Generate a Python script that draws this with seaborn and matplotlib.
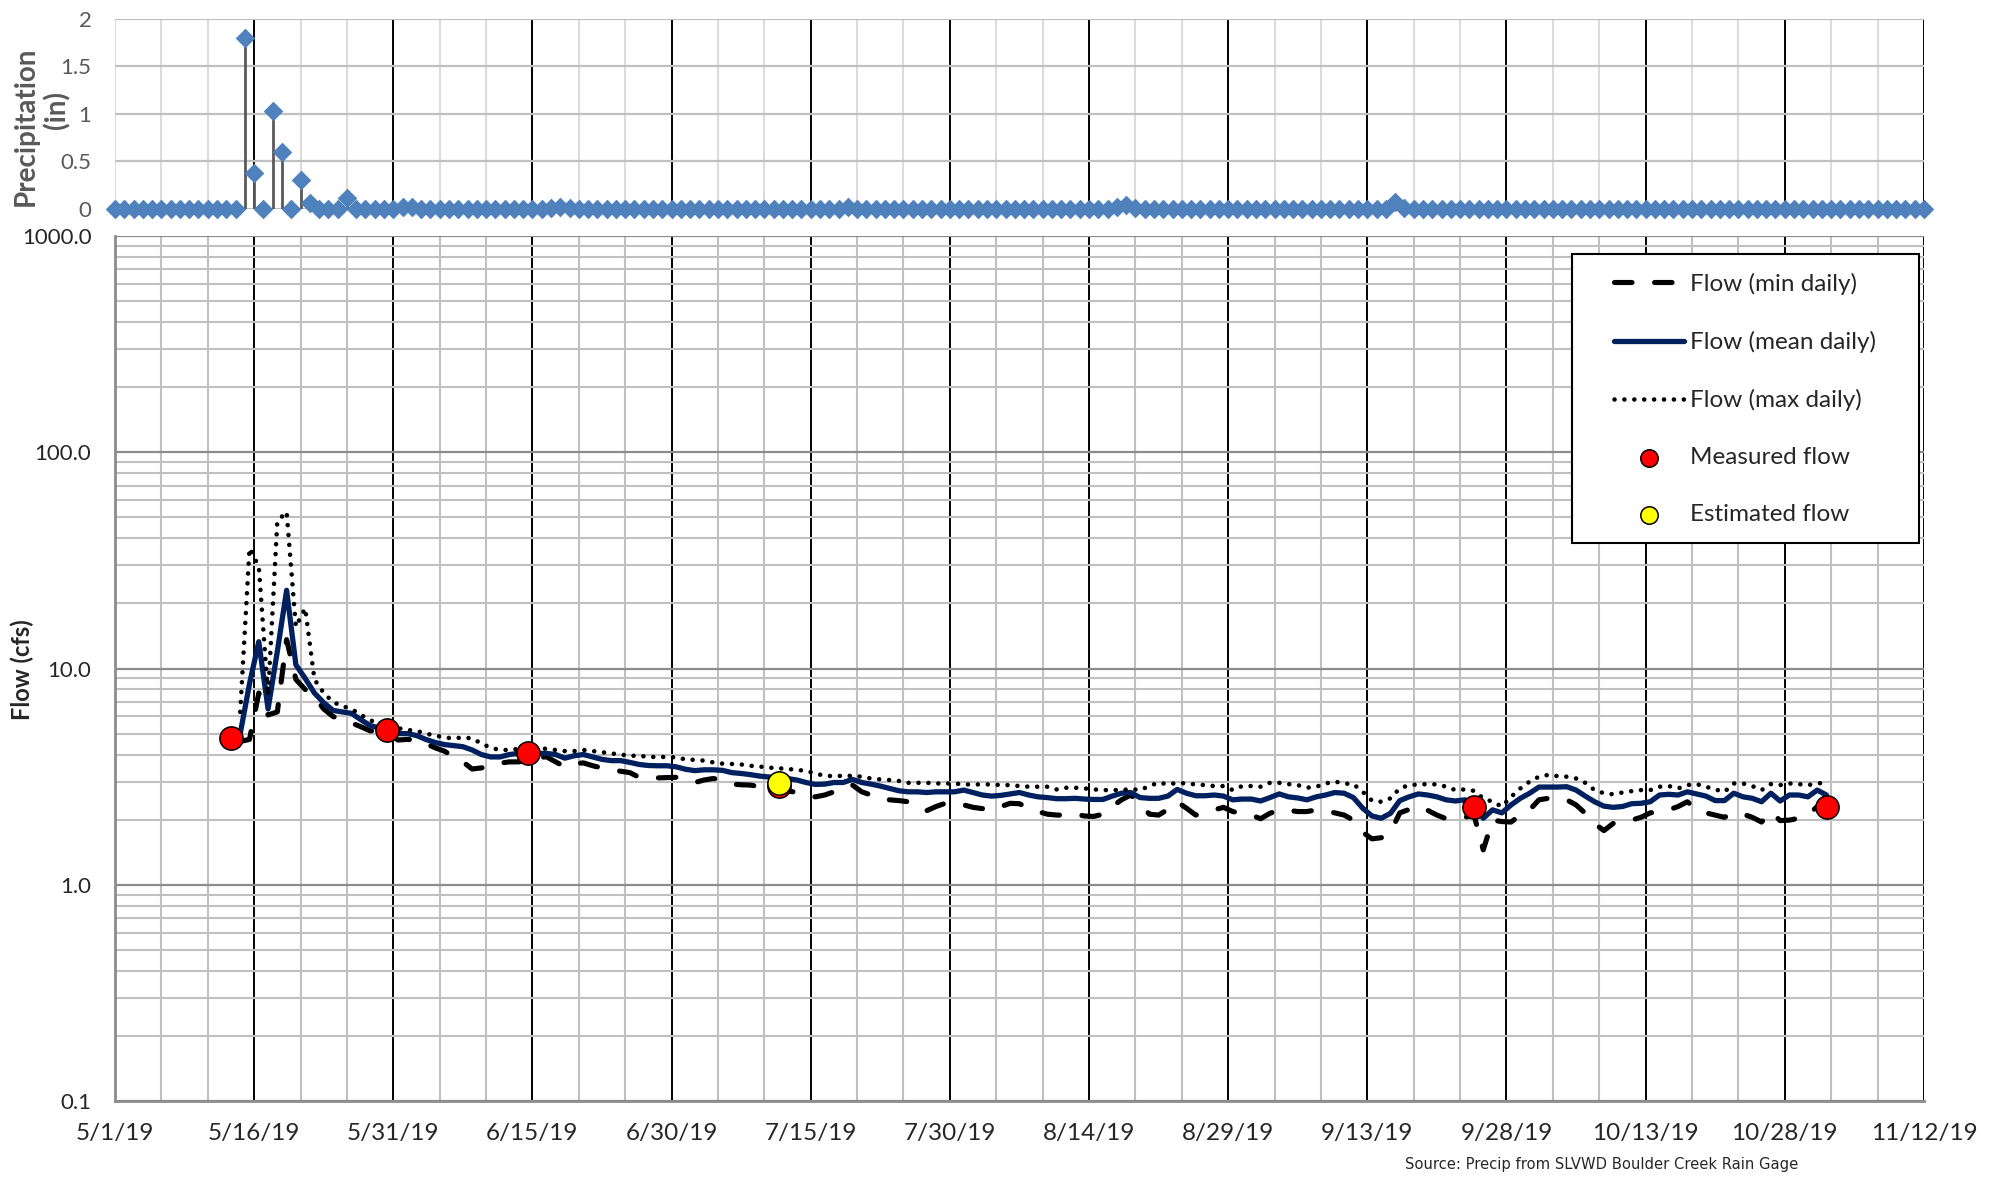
import pandas as pd
import matplotlib
matplotlib.use("Agg")
import matplotlib.pyplot as plt
import matplotlib.dates as mdates
from matplotlib.ticker import FixedLocator, FuncFormatter, NullFormatter
from matplotlib.patches import Rectangle
import seaborn as sns

# daily precipitation (in), one value per day starting 5/1/19
precip_start = "2019-05-01"
precip_in = [
    0, 0, 0, 0, 0, 0, 0, 0, 0, 0, 0, 0, 0, 0, 1.8,
    0.38, 0, 1.03, 0.6, 0, 0.3, 0.06, 0, 0, 0, 0.12, 0, 0, 0, 0,
    0, 0.02, 0.02, 0, 0, 0, 0, 0, 0, 0, 0, 0, 0, 0, 0,
    0, 0, 0.01, 0.02, 0.01, 0, 0, 0, 0, 0, 0, 0, 0, 0, 0,
    0, 0, 0, 0, 0, 0, 0, 0, 0, 0, 0, 0, 0, 0, 0,
    0, 0, 0, 0, 0.02, 0, 0, 0, 0, 0, 0, 0, 0, 0, 0,
    0, 0, 0, 0, 0, 0, 0, 0, 0, 0, 0, 0, 0, 0, 0,
    0, 0, 0, 0.02, 0.04, 0.01, 0, 0, 0, 0, 0, 0, 0, 0, 0,
    0, 0, 0, 0, 0, 0, 0, 0, 0, 0, 0, 0, 0, 0, 0,
    0, 0, 0, 0.07, 0.01, 0, 0, 0, 0, 0, 0, 0, 0, 0, 0,
    0, 0, 0, 0, 0, 0, 0, 0, 0, 0, 0, 0, 0, 0, 0,
    0, 0, 0, 0, 0, 0, 0, 0, 0, 0, 0, 0, 0, 0, 0,
    0, 0, 0, 0, 0, 0, 0, 0, 0, 0, 0, 0, 0, 0, 0,
    0,
]

# daily flow (cfs), one value per day starting 5/14/19
flow_start = "2019-05-14 12:00"
flow_min = [
    4.6, 4.7, 7.7, 6.1, 6.3, 13.6, 8.9, 8.0, 7.4, 6.5, 6.0, 5.8, 5.6, 5.38, 5.15,
    5.1, 5.0, 4.67, 4.7, 4.67, 4.5, 4.3, 4.15, 3.91, 3.7, 3.43, 3.47, 3.55, 3.65, 3.7,
    3.7, 3.77, 3.85, 3.91, 3.7, 3.51, 3.63, 3.66, 3.55, 3.47, 3.39, 3.35, 3.3, 3.14, 3.11,
    3.12, 3.13, 3.14, 3.05, 2.97, 3.05, 3.1, 3.05, 2.92, 2.9, 2.89, 2.84, 2.74, 2.7, 2.72,
    2.67, 2.58, 2.55, 2.6, 2.69, 2.74, 2.89, 2.69, 2.6, 2.49, 2.47, 2.45, 2.42, 2.34, 2.2,
    2.3, 2.38, 2.4, 2.34, 2.28, 2.25, 2.22, 2.3, 2.38, 2.37, 2.26, 2.18, 2.12, 2.1, 2.1,
    2.12, 2.08, 2.07, 2.12, 2.3, 2.47, 2.6, 2.38, 2.12, 2.1, 2.23, 2.42, 2.26, 2.1, 2.15,
    2.22, 2.28, 2.18, 2.14, 2.1, 2.02, 2.14, 2.22, 2.21, 2.18, 2.18, 2.22, 2.2, 2.15, 2.1,
    1.99, 1.75, 1.63, 1.65, 1.75, 2.15, 2.23, 2.31, 2.21, 2.1, 2.02, 2.02, 2.05, 2.1, 1.45,
    1.99, 1.96, 1.95, 2.1, 2.22, 2.47, 2.51, 2.51, 2.47, 2.34, 2.14, 1.92, 1.78, 1.92, 1.96,
    1.99, 2.05, 2.15, 2.18, 2.22, 2.3, 2.42, 2.22, 2.15, 2.1, 2.05, 2.15, 2.12, 2.05, 1.95,
    2.18, 1.98, 1.99, 2.03, 2.1, 2.3, 2.3,
]
flow_mean = [
    5.0, 8.5, 13.3, 6.5, 12.0, 23.0, 10.4, 9.0, 7.7, 6.95, 6.4, 6.3, 6.2, 5.8, 5.45,
    5.3, 5.2, 5.0, 5.0, 4.9, 4.7, 4.55, 4.45, 4.4, 4.35, 4.2, 4.0, 3.9, 3.9, 4.0,
    4.05, 4.1, 4.05, 4.05, 4.0, 3.85, 3.95, 4.0, 3.9, 3.8, 3.75, 3.75, 3.68, 3.6, 3.56,
    3.55, 3.55, 3.51, 3.42, 3.37, 3.4, 3.4, 3.38, 3.3, 3.27, 3.23, 3.18, 3.15, 3.12, 3.1,
    3.05, 2.97, 2.91, 2.92, 2.97, 2.97, 3.07, 2.97, 2.92, 2.86, 2.79, 2.72, 2.69, 2.69, 2.67,
    2.69, 2.69, 2.69, 2.74, 2.67, 2.6, 2.57, 2.59, 2.63, 2.67, 2.6, 2.55, 2.53, 2.5, 2.5,
    2.51, 2.49, 2.48, 2.48, 2.57, 2.65, 2.67, 2.53, 2.51, 2.51, 2.57, 2.76, 2.65, 2.58, 2.58,
    2.6, 2.57, 2.47, 2.49, 2.49, 2.44, 2.53, 2.63, 2.55, 2.52, 2.47, 2.55, 2.6, 2.67, 2.65,
    2.53, 2.26, 2.08, 2.03, 2.14, 2.45, 2.55, 2.63, 2.6, 2.55, 2.47, 2.44, 2.47, 2.34, 2.03,
    2.22, 2.15, 2.34, 2.51, 2.65, 2.83, 2.83, 2.83, 2.84, 2.74, 2.57, 2.42, 2.31, 2.28, 2.3,
    2.37, 2.38, 2.42, 2.6, 2.62, 2.6, 2.69, 2.63, 2.57, 2.45, 2.45, 2.65, 2.55, 2.51, 2.42,
    2.65, 2.44, 2.6, 2.6, 2.55, 2.74, 2.6,
]
flow_max = [
    6.3, 36.0, 29.6, 7.5, 48.0, 53.0, 15.6, 19.0, 8.9, 7.7, 7.0, 6.7, 6.5, 6.1, 5.78,
    5.5, 5.38, 5.3, 5.2, 5.15, 5.0, 4.9, 4.8, 4.75, 4.8, 4.75, 4.5, 4.3, 4.2, 4.2,
    4.25, 4.3, 4.3, 4.25, 4.2, 4.15, 4.15, 4.2, 4.15, 4.1, 4.05, 4.0, 3.95, 3.95, 3.9,
    3.9, 3.9, 3.88, 3.8, 3.78, 3.75, 3.68, 3.63, 3.62, 3.6, 3.55, 3.52, 3.48, 3.46, 3.43,
    3.4, 3.36, 3.27, 3.19, 3.18, 3.19, 3.19, 3.16, 3.1, 3.07, 3.05, 3.02, 2.96, 2.96, 2.96,
    2.94, 2.94, 2.94, 2.91, 2.91, 2.91, 2.91, 2.89, 2.89, 2.86, 2.84, 2.84, 2.84, 2.76, 2.81,
    2.81, 2.79, 2.76, 2.74, 2.74, 2.74, 2.77, 2.74, 2.86, 2.97, 2.91, 2.96, 2.94, 2.91, 2.89,
    2.86, 2.86, 2.74, 2.86, 2.86, 2.84, 2.96, 2.96, 2.92, 2.89, 2.81, 2.84, 2.94, 3.0, 2.94,
    2.92, 2.69, 2.45, 2.42, 2.51, 2.79, 2.89, 2.91, 2.92, 2.91, 2.84, 2.74, 2.76, 2.72, 2.51,
    2.42, 2.3, 2.55, 2.79, 3.0, 3.16, 3.22, 3.18, 3.16, 3.1, 2.96, 2.74, 2.65, 2.62, 2.67,
    2.71, 2.74, 2.74, 2.84, 2.86, 2.79, 2.89, 2.92, 2.84, 2.76, 2.69, 2.94, 2.94, 2.86, 2.74,
    2.92, 2.89, 2.94, 2.92, 2.89, 2.94, 2.97,
]

measured_dates = ["2019-05-13 12:00", "2019-05-30 08:00", "2019-06-14 12:00",
                  "2019-07-11 14:00", "2019-09-24 12:00", "2019-11-01 14:00"]
measured_cfs = [4.75, 5.2, 4.08, 2.85, 2.28, 2.3]
estimated_dates = ["2019-07-11 14:00"]
estimated_cfs = [2.97]

tick_start, tick_end = "2019-05-01", "2019-11-12"
flow_ticks = [0.1, 1, 10, 100, 1000]
precip_ticks = [0, 0.5, 1, 1.5, 2]


def date_label(x, pos):
    d = mdates.num2date(x)
    return f"{d.month}/{d.day}/{d:%y}"


sns.set_style("white")
plt.rcParams["font.family"] = ["Lato", "DejaVu Sans"]

fig = plt.figure(figsize=(20.01, 11.77), dpi=100)
ax_p = fig.add_axes([0.05747, 0.82243, 0.9040, 0.16143])
ax_f = fig.add_axes([0.05747, 0.06457, 0.9040, 0.73492])

major_x = mdates.date2num(pd.date_range(tick_start, tick_end, freq="15D"))
minor_x = mdates.date2num(pd.date_range(tick_start, tick_end, freq="5D"))

# ---- precipitation panel
precip = pd.DataFrame({"date": pd.date_range(precip_start, periods=len(precip_in), freq="D"),
                       "rain": precip_in})
wet = precip[precip["rain"] > 0.05]
ax_p.vlines(wet["date"], 0, wet["rain"], color="#595959", lw=2.0, zorder=2)
sns.scatterplot(data=precip, x="date", y="rain", marker="D", s=100, color="#4F81BD",
                edgecolor="#4F81BD", linewidth=0, ax=ax_p, clip_on=False, zorder=3, legend=False)

ax_p.set_ylim(0, 2)
ax_p.yaxis.set_major_locator(FixedLocator(precip_ticks))
ax_p.yaxis.set_major_formatter(FuncFormatter(lambda v, p: f"{v:g}"))
ax_p.set_xlabel("")
ax_p.set_ylabel("")
ax_p.tick_params(axis="y", length=0, pad=17, labelsize=16, labelcolor="#595959")
ax_p.tick_params(axis="x", which="both", length=0, labelbottom=False)
for s in ax_p.spines.values():
    s.set_visible(False)
fig.text(0.0128, 0.893, "Precipitation", rotation=90, ha="center", va="center",
         fontsize=20, fontweight="bold", color="#595959")
fig.text(0.0285, 0.9066, "(in)", rotation=90, ha="center", va="center",
         fontsize=20, fontweight="bold", color="#595959")

# ---- flow panel
flow_dates = pd.date_range(flow_start, periods=len(flow_mean), freq="D")
sns.lineplot(x=flow_dates, y=flow_min, ax=ax_f, color="black", lw=3.7, errorbar=None,
             linestyle=(0, (3.4, 4.4)), dash_capstyle="round", label="Flow (min daily)")
sns.lineplot(x=flow_dates, y=flow_mean, ax=ax_f, color="#002060", lw=3.8, errorbar=None,
             label="Flow (mean daily)")
sns.lineplot(x=flow_dates, y=flow_max, ax=ax_f, color="black", lw=3.3, errorbar=None,
             linestyle=(0, (0.01, 2.15)), dash_capstyle="round", label="Flow (max daily)")
sns.scatterplot(x=pd.to_datetime(measured_dates), y=measured_cfs, ax=ax_f, s=280,
                color="#FF0000", edgecolor="black", linewidth=1.1, zorder=4, label="Measured flow")
sns.scatterplot(x=pd.to_datetime(estimated_dates), y=estimated_cfs, ax=ax_f, s=280,
                color="#FFFF00", edgecolor="black", linewidth=1.1, zorder=5, label="Estimated flow")

ax_f.set_yscale("log")
ax_f.set_ylim(0.1, 1000)
ax_f.yaxis.set_major_locator(FixedLocator(flow_ticks))
ax_f.yaxis.set_major_formatter(FuncFormatter(lambda v, p: f"{v:.1f}"))
ax_f.yaxis.set_minor_formatter(NullFormatter())
ax_f.set_xlabel("")
ax_f.set_ylabel("")
ax_f.tick_params(axis="y", which="both", length=0, pad=17, labelsize=16)
ax_f.tick_params(axis="x", which="both", length=0, pad=16, labelsize=17.5)
ax_f.yaxis.grid(True, which="major", color="#8c8c8c", lw=1.6)
ax_f.yaxis.grid(True, which="minor", color="#c0c0c0", lw=1.5)
for s in ["top", "right"]:
    ax_f.spines[s].set_visible(False)
for s in ["left", "bottom"]:
    ax_f.spines[s].set_color("#8c8c8c")
    ax_f.spines[s].set_linewidth(2.0)
fig.text(0.011, 0.4307, "Flow (cfs)", rotation=90, ha="center", va="center",
         fontsize=17, fontweight="bold")

# shared date axis with black 15-day lines and grey 5-day lines
for ax, minor_col in [(ax_p, "#dcdcdc"), (ax_f, "#c0c0c0")]:
    ax.set_xlim(major_x[0], major_x[-1])
    ax.xaxis.set_major_locator(FixedLocator(major_x))
    ax.xaxis.set_minor_locator(FixedLocator(minor_x))
    ax.xaxis.set_major_formatter(FuncFormatter(date_label))
    ax.xaxis.grid(True, which="major", color="black", lw=1.4)
    ax.xaxis.grid(True, which="minor", color=minor_col, lw=1.5)
    ax.set_axisbelow(True)
    ax.get_xgridlines()[0].set_color(minor_col)
ax_p.yaxis.grid(True, which="major", color="#c0c0c0", lw=1.6)

# legend in a framed box
box = Rectangle((0.7856, 0.5387), 0.1734, 0.2455, transform=fig.transFigure,
                facecolor="white", edgecolor="black", lw=1.5, zorder=4.5, clip_on=False)
ax_f.add_patch(box)
handles, labels = ax_f.get_legend_handles_labels()
leg = ax_f.legend(handles, labels, loc="upper left", bbox_to_anchor=(0.8003, 0.7785),
                  bbox_transform=fig.transFigure, frameon=False, fontsize=17.5,
                  borderpad=0, handlelength=2.9, handletextpad=0.25, labelspacing=1.48,
                  markerscale=0.75)
leg.set_zorder(6)

fig.text(0.8006, 0.0102, "Source: Precip from SLVWD Boulder Creek Rain Gage", ha="center",
         va="center", fontsize=10.6, family=["Liberation Sans Narrow", "DejaVu Sans"])

fig.savefig("out.png", dpi=100)
